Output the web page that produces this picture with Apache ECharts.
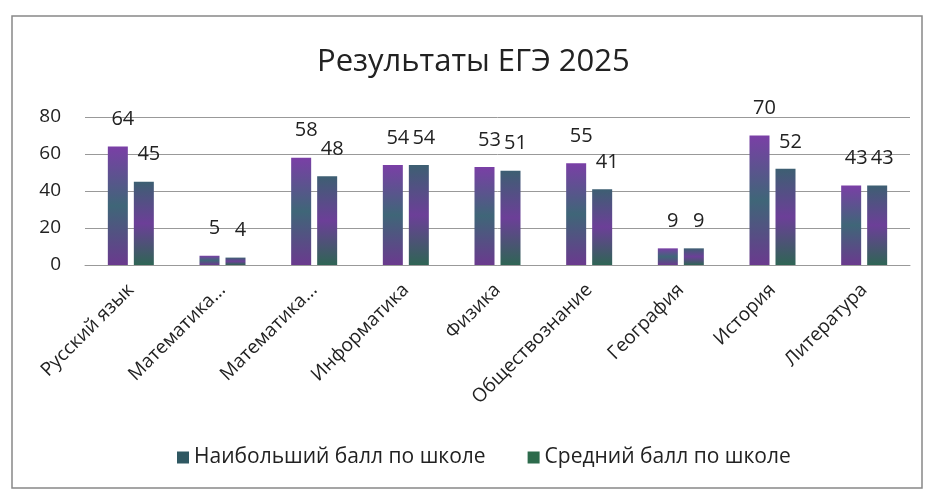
<!DOCTYPE html>
<html><head><meta charset="utf-8">
<script src="https://cdn.jsdelivr.net/npm/echarts@6/dist/echarts.min.js"></script>
<style>html,body{margin:0;padding:0;background:#fff}#c{width:926px;height:495px}</style>
</head><body><div id="c"></div>
<script>
var categories = ["Русский язык","Математика...","Математика...","Информатика","Физика","Обществознание","География","История","Литература"];
var maxScores = [64,5,58,54,53,55,9,70,43];
var avgScores = [45,4,48,54,51,41,9,52,43];
var seriesNames = ["Наибольший балл по школе","Средний балл по школе"];
var yTicks = {min:0,max:80,interval:20};

var chart = echarts.init(document.getElementById('c'));
var FONT = 'Open Sans';
function grad(a,b,c){return new echarts.graphic.LinearGradient(0,0,0,1,[{offset:0,color:a},{offset:0.5,color:b},{offset:1,color:c}]);}
var labelCfg = {show:true,position:'top',distance:17,offset:[5,0],fontSize:20,fontFamily:FONT,color:'#222'};
chart.setOption({
  animation:false,
  title:{text:'Результаты ЕГЭ 2025',left:312,top:42,textStyle:{fontFamily:FONT,fontSize:31,fontWeight:'normal',color:'#222'}},
  graphic:[{type:'rect',shape:{x:12,y:16,width:910,height:472},style:{fill:'none',stroke:'#888',lineWidth:1.5},silent:true}],
  legend:{bottom:22,left:172,itemWidth:12,itemHeight:12,itemGap:42,icon:'rect',textStyle:{fontFamily:FONT,fontSize:21,color:'#222'},
    data:[{name:seriesNames[0],itemStyle:{color:'#2f5862'}},{name:seriesNames[1],itemStyle:{color:'#2d6b4c'}}]},
  grid:{left:85,right:16,top:117,bottom:230},
  xAxis:{type:'category',data:categories,axisLine:{lineStyle:{color:'#999'}},axisTick:{show:false},
    axisLabel:{rotate:45,interval:0,fontFamily:FONT,fontSize:19,color:'#222',margin:22}},
  yAxis:{type:'value',min:yTicks.min,max:yTicks.max,interval:yTicks.interval,axisLine:{show:false},axisTick:{show:false},
    splitLine:{lineStyle:{color:'#999',width:1}},axisLabel:{fontFamily:FONT,fontSize:19,color:'#222',margin:24}},
  series:[
    {name:seriesNames[0],type:'bar',data:maxScores,barWidth:20,barGap:'30%',
     itemStyle:{color:grad('#7a3fa6','#3f6678','#6a3a8e')},label:labelCfg},
    {name:seriesNames[1],type:'bar',data:avgScores,barWidth:20,barGap:'30%',
     itemStyle:{color:grad('#3d5f72','#6c3f98','#2f6555')},label:labelCfg}
  ]
});
</script></body></html>
